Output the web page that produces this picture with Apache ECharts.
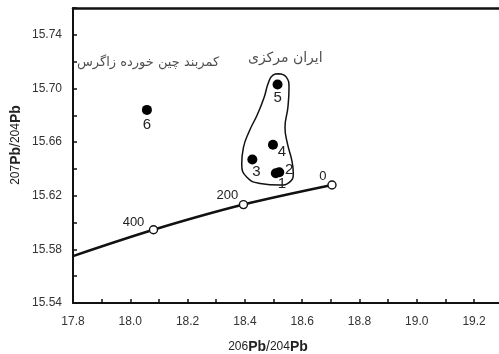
<!DOCTYPE html>
<html><head><meta charset="utf-8">
<script src="https://cdn.jsdelivr.net/npm/echarts@6/dist/echarts.min.js"></script>
<style>html,body{margin:0;padding:0;background:#fff}#c{width:499px;height:354px}</style>
</head><body><div id="c"></div>
<script>
// Sample points (206Pb/204Pb, 207Pb/204Pb)
const sampleNames = ['1', '2', '3', '4', '5', '6'];
const sampleX = [18.508, 18.520, 18.426, 18.498, 18.514, 18.058];
const sampleY = [15.6367, 15.6375, 15.647, 15.658, 15.703, 15.684];

// Growth curve with model ages (Ma)
const curveX = [17.80, 18.081, 18.395, 18.704];
const curveY = [15.575, 15.5946, 15.6134, 15.628];
const ageLabels = ['400', '200', '0'];
const ageX = [18.081, 18.395, 18.704];
const ageY = [15.5946, 15.6134, 15.628];

// Central Iran field outline
const fieldX = [18.517, 18.544, 18.554, 18.550, 18.540, 18.549, 18.564, 18.569, 18.555, 18.523, 18.453, 18.407, 18.389, 18.395, 18.416, 18.444, 18.467, 18.482, 18.498, 18.517];
const fieldY = [15.711, 15.7086, 15.7006, 15.6857, 15.6709, 15.6585, 15.6461, 15.6362, 15.630, 15.628, 15.6292, 15.6337, 15.6436, 15.656, 15.6684, 15.6808, 15.6932, 15.7043, 15.710, 15.711];

// Region annotations
const regionNames = ['ایران مرکزی', 'کمربند چین خورده زاگرس'];
const regionX = [18.541, 18.062];
const regionY = [15.7227, 15.7196];

const xTicksMin = 17.8, xTicksMax = 19.287, xStep = 0.1;
const yTicksMin = 15.54, yTicksMax = 15.76, yStep = 0.02;

const chart = echarts.init(document.getElementById('c'));
const txt = '#222';
const sampleLabelStyle = {
  '1': {position: 'inside', offset: [6, 11]},
  '2': {position: 'inside', offset: [10, -2]},
  '3': {position: 'inside', offset: [4, 12]},
  '4': {position: 'inside', offset: [9, 7]},
  '5': {position: 'bottom', distance: 1},
  '6': {position: 'bottom', distance: 2}
};
const regionFont = [14, 13];
const ageOffsets = [[-20, -7], [-16, -9], [-9, -9]];

const richTitle = {
  s: {fontSize: 12, fill: txt, fontFamily: 'Liberation Sans', verticalAlign: 'top', lineHeight: 22, height: 22},
  p: {fontSize: 14, fontWeight: 'bold', fill: txt, fontFamily: 'Liberation Sans', verticalAlign: 'bottom', lineHeight: 22, height: 22},
  n: {fontSize: 14, fill: txt, fontFamily: 'Liberation Sans', verticalAlign: 'bottom', lineHeight: 22, height: 22}
};

chart.setOption({
  animation: false,
  grid: {left: 73, top: 8, right: 0, bottom: 51, outerBoundsMode: 'none', containLabel: false, show: false},
  xAxis: [{
    type: 'value', min: xTicksMin, max: xTicksMax, interval: xStep,
    axisLine: {show: true, onZero: false, lineStyle: {color: '#111', width: 2}},
    axisTick: {show: true, inside: true, length: 4, lineStyle: {color: '#111', width: 1.5}},
    splitLine: {show: false},
    axisLabel: {margin: 13, fontSize: 12, color: '#333', fontFamily: 'Liberation Sans, Arial', showMaxLabel: false,
      formatter: v => (Math.round((v - xTicksMin) / xStep) % 2 === 0 && Math.abs((v - xTicksMin) / xStep - Math.round((v - xTicksMin) / xStep)) < 1e-6 ? v.toFixed(1) : '')}
  }, {
    type: 'value', position: 'top', min: xTicksMin, max: xTicksMax,
    axisLine: {show: true, onZero: false, lineStyle: {color: '#111', width: 2.5}},
    axisTick: {show: false}, axisLabel: {show: false}, splitLine: {show: false}
  }],
  yAxis: {
    type: 'value', min: yTicksMin, max: yTicksMax, interval: yStep,
    axisLine: {show: true, onZero: false, lineStyle: {color: '#111', width: 2}},
    axisTick: {show: true, inside: true, length: 4, lineStyle: {color: '#111', width: 1.5}},
    splitLine: {show: false},
    axisLabel: {margin: 11, fontSize: 12, color: '#333', fontFamily: 'Liberation Sans, Arial',
      formatter: v => (Math.round((v - yTicksMin) / yStep) % 2 === 0 ? v.toFixed(2) : '')}
  },
  graphic: [
    {type: 'text', x: 268, y: 347, style: {
      text: '{s|206}{p|Pb}{n|/}{s|204}{p|Pb}', align: 'center', verticalAlign: 'middle', rich: richTitle}},
    {type: 'text', x: 16, y: 145, rotation: Math.PI / 2, style: {
      text: '{s|207}{p|Pb}{n|/}{s|204}{p|Pb}', align: 'center', verticalAlign: 'middle', rich: richTitle}}
  ],
  series: [
    {type: 'line', name: 'field', data: fieldX.map((x, i) => [x, fieldY[i]]), smooth: 0.5, showSymbol: false, symbol: 'none',
      lineStyle: {color: '#111', width: 1.5}, z: 2},
    {type: 'line', name: 'curve', data: curveX.map((x, i) => [x, curveY[i]]), smooth: 0.3, symbol: 'none',
      lineStyle: {color: '#111', width: 2.5}, z: 3},
    {type: 'scatter', name: 'ages', data: ageX.map((x, i) => ({value: [x, ageY[i]], name: ageLabels[i],
        label: {offset: ageOffsets[i]}})),
      symbol: 'circle', symbolSize: 8, itemStyle: {color: '#fff', borderColor: '#111', borderWidth: 1.4, opacity: 1},
      label: {show: true, position: 'inside', formatter: p => p.name, fontSize: 13, color: txt, fontFamily: 'Liberation Sans'}, z: 4},
    {type: 'scatter', name: 'samples', data: sampleX.map((x, i) => ({value: [x, sampleY[i]], name: sampleNames[i],
        label: sampleLabelStyle[sampleNames[i]]})),
      symbol: 'circle', symbolSize: 10, itemStyle: {color: '#000', opacity: 1},
      label: {show: true, formatter: p => p.name, fontSize: 15, color: txt, fontFamily: 'Liberation Sans'}, z: 5},
    {type: 'scatter', name: 'regions', data: regionX.map((x, i) => ({value: [x, regionY[i]], name: regionNames[i],
        label: {fontSize: regionFont[i]}})),
      symbolSize: 0, silent: true,
      label: {show: true, position: 'inside', formatter: p => p.name, color: txt, fontFamily: 'DejaVu Sans'}, z: 5}
  ]
});
</script></body></html>
